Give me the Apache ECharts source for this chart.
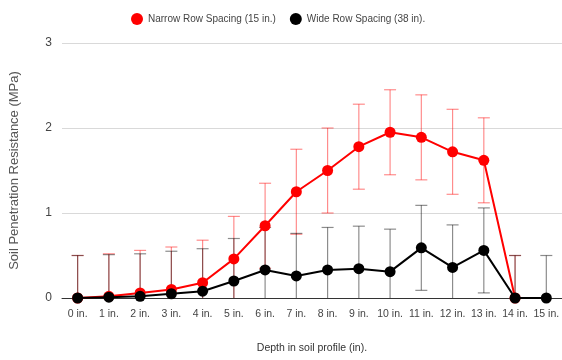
<!DOCTYPE html>
<html>
<head>
<meta charset="utf-8">
<script src="https://cdn.jsdelivr.net/npm/echarts@6/dist/echarts.min.js"></script>
<style>
  html, body { margin: 0; padding: 0; background: #fff; }
  #chart { width: 562px; height: 360px; }
</style>
</head>
<body>
<div id="chart"></div>
<script>
// Depth categories along the soil profile
const depths = ['0 in.', '1 in.', '2 in.', '3 in.', '4 in.', '5 in.', '6 in.', '7 in.',
                '8 in.', '9 in.', '10 in.', '11 in.', '12 in.', '13 in.', '14 in.', '15 in.'];

// Mean penetration resistance (MPa)
const narrowValues = [0.0, 0.02, 0.06, 0.10, 0.18, 0.46, 0.85, 1.25, 1.50, 1.78, 1.95, 1.89, 1.72, 1.62, 0.0, null];
const wideValues   = [0.0, 0.01, 0.02, 0.05, 0.08, 0.20, 0.33, 0.26, 0.33, 0.345, 0.31, 0.59, 0.36, 0.56, 0.0, 0.0];

// Error margins (MPa), symmetric
const narrowErrors = [0.5, 0.5, 0.5, 0.5, 0.5, 0.5, 0.5, 0.5, 0.5, 0.5, 0.5, 0.5, 0.5, 0.5, 0.5, null];
const wideErrors   = [0.5, 0.5, 0.5, 0.5, 0.5, 0.5, 0.5, 0.5, 0.5, 0.5, 0.5, 0.5, 0.5, 0.5, 0.5, 0.5];

const narrowName = 'Narrow Row Spacing (15 in.)';
const wideName = 'Wide Row Spacing (38 in).';

function errorData(values, errors) {
  const out = [];
  values.forEach((v, i) => {
    if (v === null || errors[i] === null) return;
    out.push([i, Math.max(0, v - errors[i]), v + errors[i]]);
  });
  return out;
}

function errorRenderer(color) {
  return function (params, api) {
    const x = api.value(0);
    const lo = api.coord([x, api.value(1)]);
    const hi = api.coord([x, api.value(2)]);
    const hw = 6;
    const style = { stroke: color, lineWidth: 1.2 };
    const children = [
      { type: 'line', shape: { x1: hi[0], y1: hi[1], x2: lo[0], y2: lo[1] }, style: style },
      { type: 'line', shape: { x1: hi[0] - hw, y1: hi[1], x2: hi[0] + hw, y2: hi[1] }, style: style }
    ];
    if (api.value(1) > 0) {
      children.push({ type: 'line', shape: { x1: lo[0] - hw, y1: lo[1], x2: lo[0] + hw, y2: lo[1] }, style: style });
    }
    return { type: 'group', children: children };
  };
}

const chart = echarts.init(document.getElementById('chart'), null, { renderer: 'canvas' });

const font = 'Liberation Sans, Arial, sans-serif';

chart.setOption({
  animation: false,
  textStyle: { fontFamily: font },
  legend: {
    top: 8,
    left: 126,
    icon: 'circle',
    itemWidth: 12,
    itemHeight: 12,
    itemGap: 14,
    textStyle: { fontSize: 10, color: '#444', fontFamily: font },
    data: [narrowName, wideName]
  },
  grid: { left: 57, right: 0, top: 43, bottom: 62 },
  xAxis: {
    type: 'category',
    data: depths,
    boundaryGap: true,
    axisLine: { lineStyle: { color: '#333', width: 1 } },
    axisTick: { show: false },
    axisLabel: { color: '#444', fontSize: 10.5, margin: 11, interval: 0 },
    name: 'Depth in soil profile (in).',
    nameLocation: 'middle',
    nameGap: 45,
    nameTextStyle: { color: '#333', fontSize: 10.5 }
  },
  yAxis: {
    type: 'value',
    min: 0,
    max: 3,
    interval: 1,
    axisLine: { show: false },
    axisTick: { show: false },
    axisLabel: { color: '#444', fontSize: 12, margin: 10 },
    splitLine: { lineStyle: { color: '#d9d9d9', width: 1 } },
    name: 'Soil Penetration Resistance (MPa)',
    nameLocation: 'middle',
    nameGap: 41,
    nameTextStyle: { color: '#555', fontSize: 13 }
  },
  series: [
    {
      type: 'custom',
      name: narrowName + ' error',
      renderItem: errorRenderer('rgba(255,0,0,0.45)'),
      data: errorData(narrowValues, narrowErrors),
      encode: { x: 0, y: [1, 2] },
      z: 1,
      silent: true
    },
    {
      type: 'custom',
      name: wideName + ' error',
      renderItem: errorRenderer('rgba(0,0,0,0.45)'),
      data: errorData(wideValues, wideErrors),
      encode: { x: 0, y: [1, 2] },
      z: 1,
      silent: true
    },
    {
      type: 'line',
      name: narrowName,
      data: narrowValues,
      color: '#ff0000',
      symbol: 'circle',
      symbolSize: 11,
      lineStyle: { width: 2 },
      z: 3
    },
    {
      type: 'line',
      name: wideName,
      data: wideValues,
      color: '#000000',
      symbol: 'circle',
      symbolSize: 11,
      lineStyle: { width: 2 },
      z: 4
    }
  ]
});
</script>
</body>
</html>
